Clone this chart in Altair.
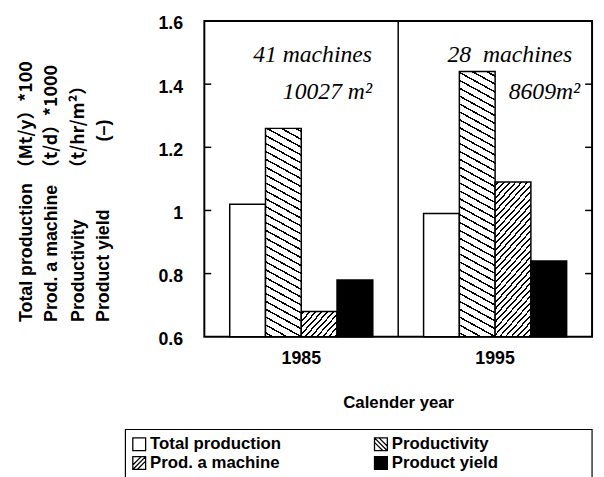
import math
import altair as alt
import pandas as pd

# ---------------- data ----------------
years = ["1985", "1995"]
series = ["Total production", "Productivity", "Prod. a machine", "Product yield"]
values_1985 = [1.02, 1.26, 0.68, 0.78]
values_1995 = [0.99, 1.44, 1.09, 0.84]
y_ticks = [0.6, 0.8, 1.0, 1.2, 1.4, 1.6]
inner_ticks = [0.8, 1.0, 1.2, 1.4]
title_names = ["Total production", "Prod. a machine", "Productivity", "Product yield"]
title_units = ["\uff08Mt/y\uff09*100", "\uff08t/d\uff09*1000", "\uff08t/hr/m\u00b2\uff09", "(\u2013)"]
notes_1985 = ["41 machines", "10027 m\u00b2"]
notes_1995 = ["28\u00a0 machines", "8609m\u00b2"]

rows = []
for yr, vals in zip(years, [values_1985, values_1995]):
    for s, v in zip(series, vals):
        rows.append({"year": yr, "series": s, "value": v})
df = pd.DataFrame(rows)

# ---------------- layout / style ----------------
W, H = 393, 320
Y0, Y1 = 0.6, 1.6
BAR_W = 36.25
FONT = "Liberation Sans"


def hatch(v, kind):
    """Linear-gradient stripes that look like hatching on a bar of value v."""
    w = BAR_W
    h = (v - Y0) / (Y1 - Y0) * H
    if kind == "back":          # '\\\\' lines
        s, sv, lt = 0.55, 8.0, 1.5
        gx, gy = s / h, -1.0 / w
        x1, y1 = 0.0, 1.0
    else:                       # '////' lines
        s, sv, lt = 1.1, 6.6, 1.4
        gx, gy = s / h, 1.0 / w
        x1, y1 = 0.0, 0.0
    t = (s / h + 1.0 / w) / (gx * gx + gy * gy)
    x2, y2 = x1 + t * gx, y1 + t * gy
    D = (w * s + h) / math.sqrt(1 + s * s)
    N = (w * s + h) / sv
    a = (lt / 2) / D
    stops = [{"offset": 0, "color": "white"}]
    k = 0
    while True:
        c = (k + 0.5) / N
        if c + a >= 1:
            break
        stops += [
            {"offset": round(c - a, 5), "color": "white"},
            {"offset": round(c - a, 5), "color": "black"},
            {"offset": round(c + a, 5), "color": "black"},
            {"offset": round(c + a, 5), "color": "white"},
        ]
        k += 1
    stops.append({"offset": 1, "color": "white"})
    return {"gradient": "linear", "x1": x1, "y1": y1, "x2": x2, "y2": y2, "stops": stops}


conds = [{"test": "datum.series === 'Product yield'", "value": "black"}]
for yr, vals in zip(years, [values_1985, values_1995]):
    conds.append({"test": f"datum.series === 'Productivity' && datum.year === '{yr}'",
                  "value": hatch(vals[1], "back")})
    conds.append({"test": f"datum.series === 'Prod. a machine' && datum.year === '{yr}'",
                  "value": hatch(vals[2], "fwd")})

x_enc = alt.X("year:N", sort=years,
              scale=alt.Scale(paddingInner=0, paddingOuter=0),
              axis=alt.Axis(title="Calender year", labelAngle=0, ticks=False, domain=False,
                            labelFontSize=18, labelFontWeight="bold", labelPadding=13,
                            titleFontSize=17, titleFontWeight="bold", titlePadding=28))
y_scale = alt.Scale(domain=[Y0, Y1], nice=False, zero=False)
y_enc = alt.Y("value:Q", scale=y_scale,
              axis=alt.Axis(title=None, values=y_ticks, format=".1~f", ticks=False, tickSize=0,
                            domain=False, grid=False, labelPadding=22, labelOffset=3,
                            labelFontSize=18, labelFontWeight="bold"))

bars = alt.Chart(df).mark_bar(stroke="black", strokeWidth=1.5).encode(
    x=x_enc,
    xOffset=alt.XOffset("series:N", sort=series,
                        scale=alt.Scale(domain=series, paddingInner=0, paddingOuter=0.71)),
    y=y_enc,
    y2=alt.datum(Y0),
    fill=alt.FillValue(value="white", condition=conds),
)

divider = alt.Chart(pd.DataFrame({"year": [years[1]]})).mark_rule(
    color="black", strokeWidth=1.5).encode(
    x=alt.X("year:N", bandPosition=0), y=alt.value(0), y2=alt.value(H))

tick_df = pd.DataFrame({"v": inner_ticks})
ticks_l = alt.Chart(tick_df).mark_rule(color="black", strokeWidth=1.5).encode(
    y=alt.Y("v:Q", scale=y_scale), x=alt.value(0), x2=alt.value(7))
ticks_r = alt.Chart(tick_df).mark_rule(color="black", strokeWidth=1.5).encode(
    y=alt.Y("v:Q", scale=y_scale), x=alt.value(W - 7), x2=alt.value(W))


def text_layer(txt, x, y, **kw):
    return alt.Chart(pd.DataFrame({"t": [txt]})).mark_text(**kw).encode(
        text="t:N", x=alt.value(x), y=alt.value(y))


note_kw = dict(font="Liberation Serif", fontStyle="italic", fontSize=24, align="right",
               baseline="middle", color="black")
notes = [
    text_layer(notes_1985[0], 170, 35, **note_kw),
    text_layer(notes_1985[1], 170, 72, **note_kw),
    text_layer(notes_1995[0], 373, 35, **note_kw),
    text_layer(notes_1995[1], 381, 72, **note_kw),
]

title_kw = dict(fontWeight="bold", fontSize=18, angle=270, baseline="middle",
                align="left", color="black")
col_x = [-180, -154, -127, -102]
unit_y = [158, 158, 158, 122]
unit_font = ["Noto Sans CJK JP", "Noto Sans CJK JP", "Noto Sans CJK JP", FONT]
ytitle = []
for name, unit, cx, uy, uf in zip(title_names, title_units, col_x, unit_y, unit_font):
    ytitle.append(text_layer(name, cx, 305, font=FONT, **title_kw))
    ytitle.append(text_layer(unit, cx, uy, font=uf, **title_kw))

# ---------------- legend (drawn by hand) ----------------
sym_square = "M-1,-1H1V1H-1Z"
sym_back = "M-1,-1H1V1H-1Z M-1,-1L1,1 M-1,-0.3L0.3,1 M-0.3,-1L1,0.3"
sym_fwd = "M-1,-1H1V1H-1Z M-1,1L1,-1 M-1,0.3L0.3,-1 M-0.3,1L1,-0.3"
sym_style = {
    "Total production": (sym_square, "white"),
    "Productivity": (sym_back, "white"),
    "Prod. a machine": (sym_fwd, "white"),
    "Product yield": (sym_square, "black"),
}
leg_cols = [-66, 179]
leg_rows = [429, 448]
legend_layers = []
for i, name in enumerate(series):
    lx, ly = leg_cols[i % 2], leg_rows[i // 2]
    shape, fill = sym_style[name]
    legend_layers.append(
        alt.Chart(pd.DataFrame({"t": [name]})).mark_point(
            shape=shape, size=169, fill=fill, filled=True, stroke="black",
            strokeWidth=1.3, opacity=1).encode(x=alt.value(lx), y=alt.value(ly)))
    legend_layers.append(text_layer(name, lx + 11, ly, font=FONT, fontWeight="bold",
                                    fontSize=17, align="left", baseline="middle",
                                    color="black"))

legend_box = alt.Chart(pd.DataFrame({"a": [0]})).mark_rect(
    fillOpacity=0, stroke="black", strokeWidth=1.2).encode(
    x=alt.value(-80), x2=alt.value(W), y=alt.value(414), y2=alt.value(520))

chart = alt.layer(bars, divider, ticks_l, ticks_r, *notes, *ytitle, *legend_layers,
                  legend_box).properties(
    width=W, height=H,
    autosize=alt.AutoSizeParams(type="none"),
    padding={"left": 199, "top": 10, "right": 4, "bottom": 141},
).configure_view(stroke="black", strokeWidth=2).configure_axis(
    labelColor="black", titleColor="black", labelFont=FONT, titleFont=FONT
)

chart.save("out.html", embed_options={"renderer": "svg", "actions": False})
